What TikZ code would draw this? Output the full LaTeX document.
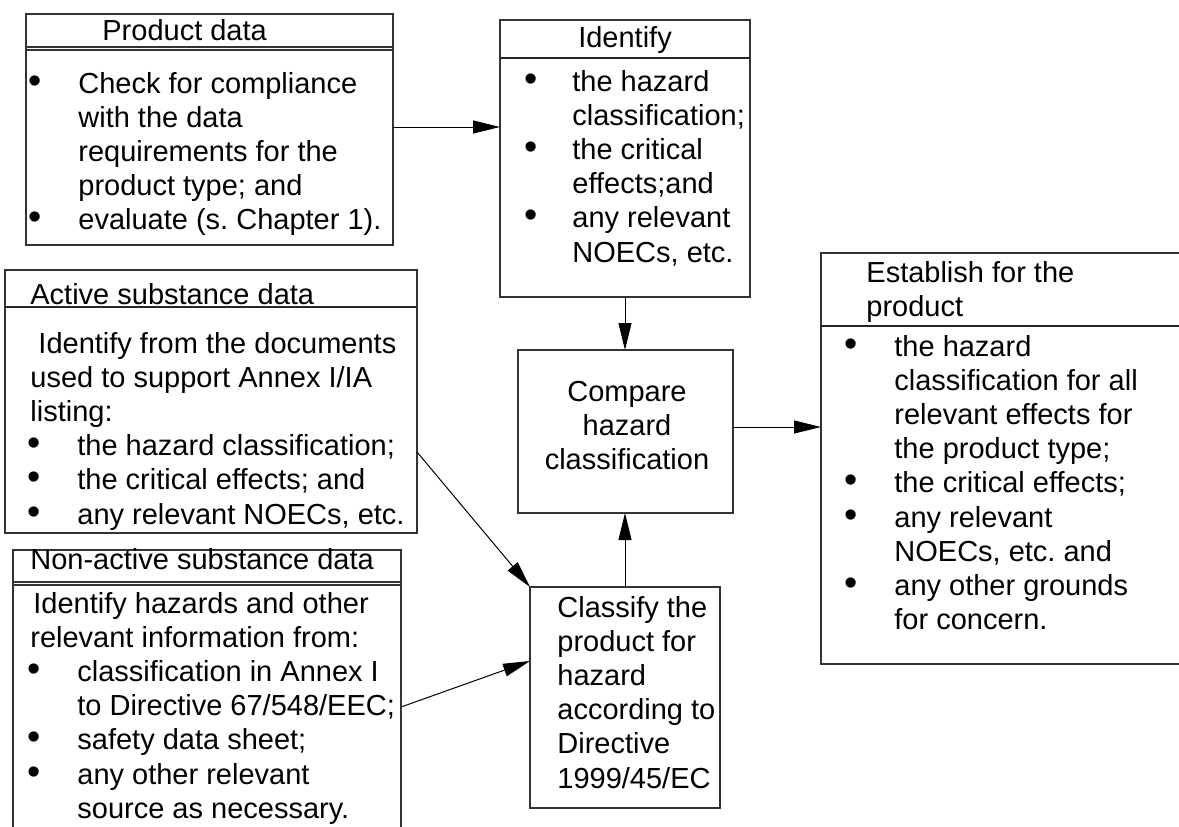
\documentclass[tikz,border=0pt]{standalone}
\usepackage{fontspec}
\setmainfont{Liberation Sans}
\usetikzlibrary{arrows.meta,fit,calc}

% bullet hung to the left of the current position
\newcommand\bu[1][18.5pt]{\leavevmode\llap{\scalebox{1.3}{\textbullet}\hspace{#1}}}
% slightly tighter bullet for the narrow box
\newcommand\bui{\bu[17.5pt]}
% indented bullet line inside a box whose plain text starts further left
\newcommand\ibu{\hspace*{23.5pt}\bu}
% block of explicitly broken lines, baseline at the first line
\newcommand\textlines[2][220pt]{\parbox[t]{#1}{\raggedright #2}}

\begin{document}
\frenchspacing
\begin{tikzpicture}[x=0.5pt,y=-0.5pt,
  every node/.style={font=\fontsize{14.5pt}{17.1pt}\selectfont},
  box/.style={draw=black!80, line width=0.55pt, inner sep=0pt, outer sep=0pt, rectangle},
  rule/.style={draw=black!80, line width=0.55pt},
  heavyrule/.style={draw=black!85, line width=1pt},
  txt/.style={inner sep=0pt, anchor=base west},
  ctxt/.style={inner sep=0pt, anchor=base},
  arr/.style={draw=black, line width=0.5pt, -{Triangle[length=13.5pt,width=6.5pt]}}]

\useasboundingbox (0,0) rectangle (1179,826);
\clip (0,0) rectangle (1179,826);

% ---------- frames ----------
\node[box, fit={(26,14) (393,245)}]   (prod)   {};
\node[box, fit={(500,20) (750,297)}]  (ident)  {};
\node[box, fit={(5,270) (417,533)}]   (act)    {};
\node[box, fit={(13,550) (401,850)}]  (nonact) {};
\node[box, fit={(518,350) (733,513)}] (comp)   {};
\node[box, fit={(530,587) (720,808)}] (class)  {};
\node[box, fit={(821,253) (1200,664)}] (estab) {};

% ---------- header dividers ----------
\draw[rule] ($(prod.north west)+(0,33)$) -- ($(prod.north east)+(0,33)$);
\draw[rule] ($(prod.north west)+(0,36)$) -- ($(prod.north east)+(0,36)$);
\draw[heavyrule] ($(ident.north west)+(0,38)$) -- ($(ident.north east)+(0,38)$);
\draw[heavyrule] ($(act.north west)+(0,37)$) -- ($(act.north east)+(0,37)$);
\draw[rule] ($(nonact.north west)+(0,32)$) -- ($(nonact.north east)+(0,32)$);
\draw[rule] ($(nonact.north west)+(0,35)$) -- ($(nonact.north east)+(0,35)$);
\draw[heavyrule] ($(estab.north west)+(0,73)$) -- ($(estab.north east)+(0,73)$);

% ---------- texts ----------
\node[txt] (prod-h) at (102,40) {Product data};
\node[txt] (prod-b) at (78,93) {\textlines{\bu Check for compliance\\
  with the data\\ requirements for the\\ product type; and\\
  \bu evaluate (s. Chapter 1).}};

\node[ctxt] (ident-h) at (625,47) {Identify};
\node[txt] (ident-b) at (572,91) {\textlines{\bui the hazard\\
  classification;\\ \bui the critical\\ effects;and\\
  \bui any relevant\\ NOECs, etc.}};

\node[txt] (act-h) at (30,304) {Active substance data};
\node[txt] (act-b) at (30,353) {\textlines{\ Identify from the documents\\
  used to support Annex I/IA\\ listing:\\
  \ibu the hazard classification;\\
  \ibu the critical effects; and\\
  \ibu any relevant NOECs, etc.}};

\node[txt] (nonact-h) at (30,569) {Non-active substance data};
\node[txt] (nonact-b) at (30,613) {\textlines{\hspace*{1.5pt}Identify hazards and other\\
  relevant information from:\\
  \ibu classification in Annex I\\
  \hspace*{23.5pt}to Directive 67/548/EEC;\\
  \ibu safety data sheet;\\
  \ibu any other relevant\\
  \hspace*{23.5pt}source as necessary.}};

\node[ctxt] (comp-t) at (627,401) {\parbox[t]{110pt}{\centering Compare\\ hazard\\ classification}};

\node[txt] (class-t) at (557,617) {\textlines{Classify the\\ product for\\ hazard\\
  according to\\ Directive\\ 1999/45/EC}};

\node[txt] (estab-h) at (866,282) {\textlines{Establish for the\\ product}};
\node[txt] (estab-b) at (894,356) {\textlines{\bu the hazard\\
  classification for all\\ relevant effects for\\ the product type;\\
  \bu the critical effects;\\
  \bu any relevant\\ NOECs, etc. and\\
  \bu any other grounds\\ for concern.}};

% ---------- connectors ----------
\draw[arr] ($(prod.north east)+(0,113)$) -- ($(ident.north west)+(0,107)$);
\draw[arr] (ident.south) -- (ident.south |- comp.north);
\draw[arr] ($(comp.north east)+(0,77)$) -- ($(estab.north west)+(0,174)$);
\draw[arr] (class.north) -- (class.north |- comp.south);
\draw[arr] ($(act.north east)+(0,182)$) -- (class.north west);
\draw[arr] ($(nonact.north east)+(0,157)$) -- ($(class.north west)+(0,74)$);

\end{tikzpicture}
\end{document}
